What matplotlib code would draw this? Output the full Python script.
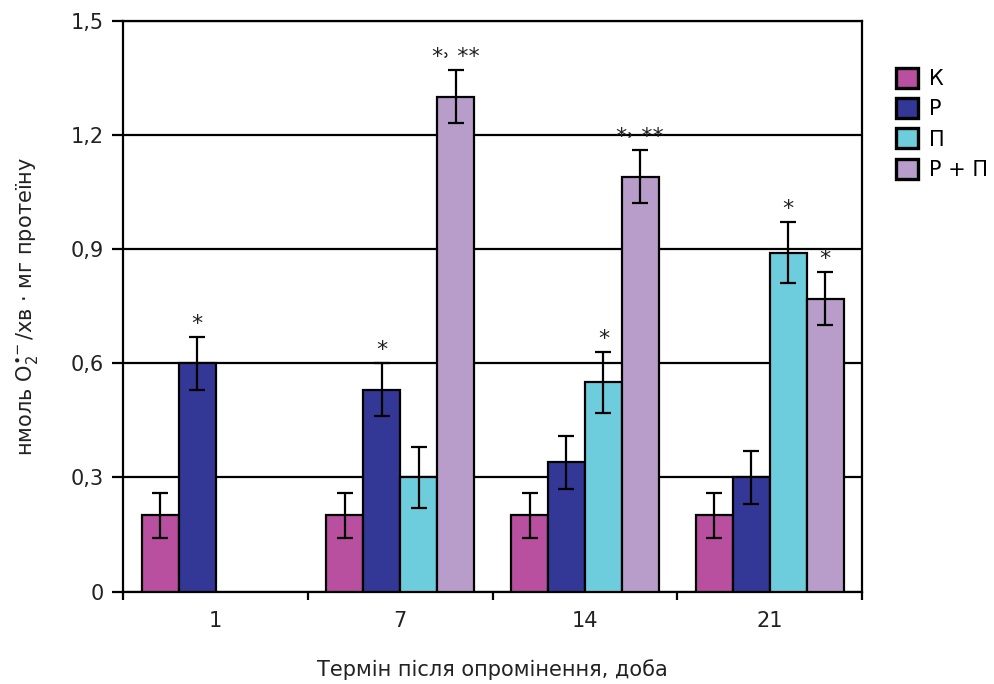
import matplotlib
matplotlib.use("Agg")
import matplotlib.pyplot as plt
import numpy as np

days = ["1", "7", "14", "21"]
series = ["К", "Р", "П", "Р + П"]
colors = ["#b94f9f", "#333795", "#6dcddd", "#b89dcb"]

# values per series over the four terms (nan = no bar)
k_vals = [0.20, 0.20, 0.20, 0.20]
r_vals = [0.60, 0.53, 0.34, 0.30]
p_vals = [np.nan, 0.30, 0.55, 0.89]
rp_vals = [np.nan, 1.30, 1.09, 0.77]

k_err = [0.06, 0.06, 0.06, 0.06]
r_err = [0.07, 0.07, 0.07, 0.07]
p_err = [np.nan, 0.08, 0.08, 0.08]
rp_err = [np.nan, 0.07, 0.07, 0.07]

# significance marks above bars
k_marks = ["", "", "", ""]
r_marks = ["*", "*", "", ""]
p_marks = ["", "", "*", "*"]
rp_marks = ["", "*˒ **", "*˒ **", "*"]

values = [k_vals, r_vals, p_vals, rp_vals]
errors = [k_err, r_err, p_err, rp_err]
marks = [k_marks, r_marks, p_marks, rp_marks]

FS = 15
TXT = "#222222"

plt.rcParams["font.family"] = ["DejaVu Sans"]
plt.rcParams["mathtext.fontset"] = "dejavusans"

fig = plt.figure(figsize=(9.95, 6.84), dpi=100)
ax = fig.add_axes([0.1239, 0.1352, 0.7424, 0.8345])

x = np.arange(len(days))
w = 0.2
offsets = [-1.5 * w, -0.5 * w, 0.5 * w, 1.5 * w]

for i in range(4):
    ax.bar(x + offsets[i], values[i], width=w, color=colors[i], edgecolor="black",
           linewidth=1.6, label=series[i], zorder=3)
    ax.errorbar(x + offsets[i], values[i], yerr=errors[i], fmt="none", ecolor="black",
                elinewidth=1.6, capsize=6, capthick=1.6, zorder=4)
    for j in range(4):
        if marks[i][j]:
            top = values[i][j] + errors[i][j]
            ax.text(x[j] + offsets[i], top + 0.008, marks[i][j], ha="center", va="bottom",
                    fontsize=16, color=TXT, zorder=5)

ax.set_xlim(-0.5, 3.5)
ax.set_ylim(0, 1.5)
yt = [0, 0.3, 0.6, 0.9, 1.2, 1.5]
ax.set_yticks(yt)
ax.set_yticklabels(["0", "0,3", "0,6", "0,9", "1,2", "1,5"])
ax.yaxis.grid(True, color="black", linewidth=1.6, zorder=0)
ax.set_axisbelow(True)

ax.set_xticks(x)
ax.set_xticklabels(days)
ax.set_xticks(np.arange(-0.5, 4.0, 1.0), minor=True)
ax.tick_params(axis="x", which="major", length=0, pad=14, labelsize=FS, labelcolor=TXT)
ax.tick_params(axis="x", which="minor", length=6, width=1.6, direction="out")
ax.tick_params(axis="y", length=8, width=1.6, direction="out", pad=6, labelsize=FS,
               labelcolor=TXT)

for s in ["left", "bottom", "right", "top"]:
    ax.spines[s].set_linewidth(1.6)

ax.set_xlabel("Термін після опромінення, доба", fontsize=FS, color=TXT, labelpad=20)
ax.set_ylabel(r"нмоль O$_2^{\bullet\!-}$/хв · мг протеїну", fontsize=FS, color=TXT,
              labelpad=22)

leg = ax.legend(loc="upper left", bbox_to_anchor=(1.046, 0.918), frameon=False, fontsize=FS,
                handlelength=1.05, handleheight=1.1, handletextpad=0.55, labelspacing=0.45,
                borderaxespad=0, borderpad=0)
for h in leg.legend_handles:
    h.set_linewidth(2.4)

fig.savefig("out.png", dpi=100)
